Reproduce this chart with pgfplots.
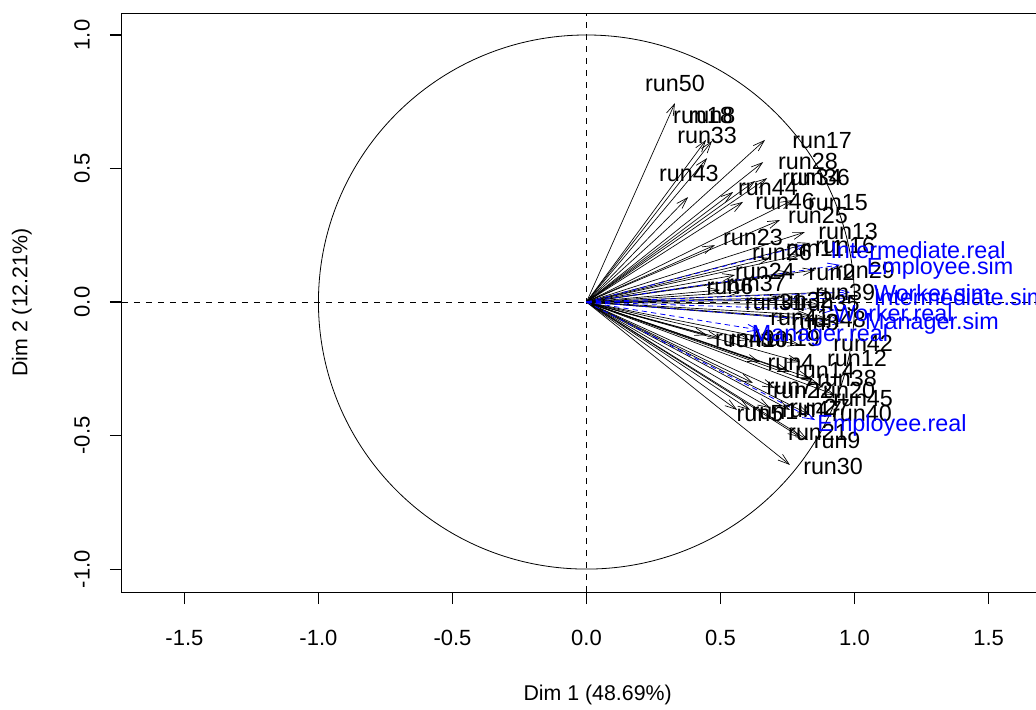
\documentclass[border=0pt]{standalone}
\usepackage{pgfplots}
\pgfplotsset{compat=1.18}
\usepackage{pgfplotstable}
\usepackage{fontspec}
\setmainfont{Liberation Sans}
\usetikzlibrary{arrows.meta}

% name, arrow tip (x,y), label position (lx,ly)
\pgfplotstableread{
name x y lx ly
run50 0.330 0.745 0.330 0.820
run18 0.446 0.607 0.435 0.697
run8 0.468 0.603 0.468 0.697
run33 0.450 0.539 0.450 0.622
run43 0.379 0.393 0.382 0.483
run17 0.666 0.607 0.879 0.603
run28 0.659 0.524 0.826 0.528
run36 0.674 0.464 0.871 0.468
run34 0.629 0.453 0.841 0.468
run44 0.547 0.412 0.677 0.427
run46 0.584 0.375 0.741 0.378
run15 0.771 0.382 0.938 0.371
run25 0.722 0.307 0.864 0.326
run13 0.815 0.262 0.976 0.266
run23 0.479 0.213 0.621 0.243
run16 0.834 0.221 0.965 0.213
run26 0.685 0.165 0.729 0.187
run11 0.797 0.176 0.853 0.202
run24 0.554 0.101 0.666 0.116
run2 0.759 0.112 0.916 0.109
run29 0.853 0.120 1.039 0.120
run6 0.498 0.045 0.535 0.060
run37 0.573 0.037 0.632 0.071
run39 0.909 0.037 0.965 0.037
run31 0.722 0.015 0.703 0.000
run32 0.797 0.007 0.808 0.007
run35 0.871 -0.011 0.908 -0.004
run3 0.834 -0.049 0.853 -0.075
run41 0.759 -0.060 0.797 -0.060
run48 0.909 -0.067 0.931 -0.067
run10 0.498 -0.135 0.640 -0.142
run19 0.610 -0.142 0.759 -0.135
run49 0.450 -0.124 0.591 -0.135
run42 0.797 -0.161 1.032 -0.154
run4 0.647 -0.225 0.763 -0.225
run12 0.797 -0.225 1.009 -0.210
run14 0.759 -0.262 0.890 -0.255
run38 0.834 -0.285 0.972 -0.285
run7 0.621 -0.303 0.759 -0.315
run22 0.703 -0.322 0.808 -0.330
run20 0.871 -0.311 0.965 -0.330
run45 0.927 -0.348 1.032 -0.360
run1 0.610 -0.404 0.703 -0.412
run5 0.562 -0.404 0.647 -0.416
run47 0.685 -0.397 0.841 -0.404
run27 0.759 -0.404 0.871 -0.393
run40 0.834 -0.423 1.028 -0.416
run21 0.797 -0.506 0.864 -0.487
run9 0.826 -0.517 0.935 -0.517
run30 0.759 -0.610 0.920 -0.614
}\runs

\pgfplotstableread{
name x y lx ly
Intermediate.real 0.815 0.213 1.237 0.195
Employee.sim 0.946 0.139 1.319 0.127
Worker.sim 0.983 0.037 1.290 0.034
Intermediate.sim 0.991 0.015 1.394 0.019
Worker.real 0.927 -0.030 1.144 -0.041
Manager.sim 0.965 -0.075 1.289 -0.079
Manager.real 0.647 -0.105 0.871 -0.124
Employee.real 0.853 -0.442 1.140 -0.461
}\supp

\begin{document}
\begin{tikzpicture}[font=\fontsize{16.5}{19}\selectfont]
\begin{axis}[
  x=201pt, y=200.25pt,
  xmin=-1.733, xmax=1.733, ymin=-1.086, ymax=1.082,
  axis line style={line width=0.8pt},
  tick align=outside, tick pos=left, major tick length=9pt,
  tick style={line width=0.8pt, black},
  xtick={-1.5,-1,-0.5,0,0.5,1,1.5},
  xticklabels={-1.5,-1.0,-0.5,0.0,0.5,1.0,1.5},
  ytick={-1,-0.5,0,0.5,1},
  yticklabels={-1.0,-0.5,0.0,0.5,1.0},
  xticklabel style={anchor=center, yshift=-25.5pt},
  yticklabel style={xshift=-21pt, rotate=90, anchor=center},
  xlabel={Dim 1 (48.69\%)}, ylabel={Dim 2 (12.21\%)},
  label style={font=\fontsize{16}{19}\selectfont},
  xlabel style={at={(axis description cs:0.512,-0.178)}, anchor=center},
  ylabel style={at={(axis description cs:-0.1077,0.5)}, anchor=center},
  clip=true,
  every node near coord/.append style={font=\fontsize{17.5}{20}\selectfont},
]
\addplot[black, dashed, dash pattern=on 4.5pt off 4.5pt, line width=0.6pt] coordinates {(-1.733,0) (1.733,0)};
\addplot[black, dashed, dash pattern=on 4.5pt off 4.5pt, line width=0.6pt] coordinates {(0,-1.086) (0,1.082)};
\draw[line width=0.6pt] (axis cs:0,0) ellipse[x radius=201pt, y radius=200.25pt];
\addplot[black, line width=0.5pt, quiver={u=\thisrow{x}, v=\thisrow{y}},
  -{Straight Barb[length=8.5pt,width=5.5pt]}] table[x expr=0, y expr=0] {\runs};
\addplot[blue, dashed, dash pattern=on 4pt off 3pt, line width=0.6pt, quiver={u=\thisrow{x}, v=\thisrow{y}},
  -{Straight Barb[length=8.5pt,width=5.5pt]}] table[x expr=0, y expr=0] {\supp};
\addplot[draw=none, mark=none, nodes near coords, point meta=explicit symbolic,
  nodes near coords style={anchor=center, text=black, inner sep=0pt}]
  table[x=lx, y=ly, meta=name] {\runs};
\addplot[draw=none, mark=none, nodes near coords, point meta=explicit symbolic,
  nodes near coords style={anchor=center, text=blue, inner sep=0pt}]
  table[x=lx, y=ly, meta=name] {\supp};
\coordinate (bbSW) at (axis cs:-2.188,-1.524);
\coordinate (bbNE) at (axis cs:1.677,1.131);
\end{axis}
\pgfresetboundingbox
\useasboundingbox (bbSW) rectangle (bbNE);
\end{tikzpicture}
\end{document}
